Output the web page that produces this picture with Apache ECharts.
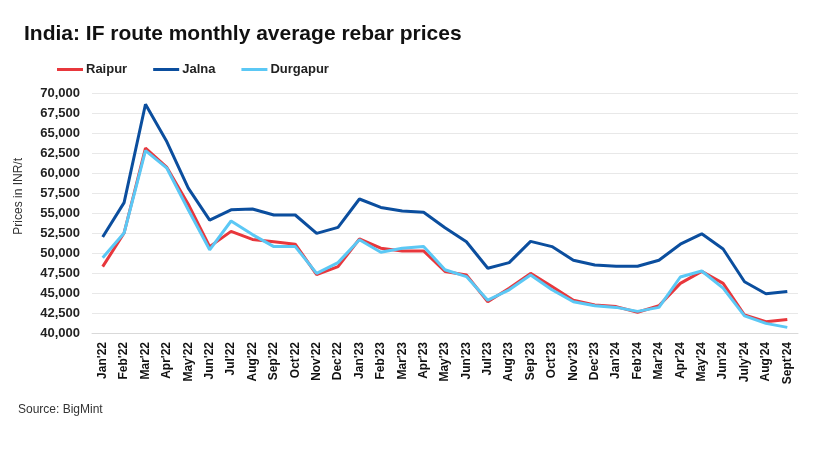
<!DOCTYPE html>
<html>
<head>
<meta charset="utf-8">
<script src="https://cdn.jsdelivr.net/npm/echarts@6/dist/echarts.min.js"></script>
<style>html,body{margin:0;padding:0;background:#fff}#c{width:825px;height:461px}</style>
</head>
<body>
<div id="c"></div>
<script>
var categories = ["Jan'22","Feb'22","Mar'22","Apr'22","May'22","Jun'22","Jul'22","Aug'22","Sep'22","Oct'22","Nov'22","Dec'22",
"Jan'23","Feb'23","Mar'23","Apr'23","May'23","Jun'23","Jul'23","Aug'23","Sep'23","Oct'23","Nov'23","Dec'23",
"Jan'24","Feb'24","Mar'24","Apr'24","May'24","Jun'24","July'24","Aug'24","Sept'24"];
var raipur = [48300,52500,63100,60700,56100,50800,52700,51700,51400,51100,47300,48300,
51750,50600,50250,50250,47700,47250,43900,45600,47450,45800,44100,43500,
43300,42600,43400,46200,47700,46200,42250,41400,41700];
var jalna = [52000,56300,68600,63900,58100,54100,55400,55500,54750,54750,52450,53200,
56750,55700,55250,55100,53150,51400,48100,48800,51450,50800,49100,48500,
48350,48350,49100,51100,52400,50500,46400,44900,45200];
var durgapur = [49400,52500,62800,60600,55400,50400,54000,52300,50800,50800,47450,48800,
51650,50100,50600,50800,47900,47050,44100,45400,47250,45400,43900,43400,
43200,42700,43200,47000,47750,45600,42150,41200,40700];
var yMin = 40000, yMax = 70000, yStep = 2500;

var chart = echarts.init(document.getElementById('c'));
function mk(name, data, color){
  return {name:name, type:'line', data:data, symbol:'none', smooth:false,
    lineStyle:{width:3, color:color}, itemStyle:{color:color}};
}
chart.setOption({
  animation:false,
  title:{text:'India: IF route monthly average rebar prices', left:19, top:19,
    textStyle:{fontFamily:'Liberation Sans', fontWeight:'bold', fontSize:21, color:'#111'}},
  legend:{left:52, top:58, itemWidth:26, itemHeight:3, itemGap:26,
    icon:'rect',
    textStyle:{fontFamily:'Liberation Sans', fontWeight:'bold', fontSize:13, color:'#222', padding:[0,0,0,-2]},
    data:['Raipur','Jalna','Durgapur']},
  grid:{left:92, right:27, top:93, bottom:128, containLabel:false},
  xAxis:{type:'category', data:categories, boundaryGap:true,
    axisLine:{lineStyle:{color:'#d9d9d9', width:1}},
    axisTick:{show:false},
    axisLabel:{rotate:90, interval:0, margin:9, fontFamily:'Liberation Sans', fontWeight:'bold', fontSize:12, color:'#111'}},
  yAxis:{type:'value', min:yMin, max:yMax, interval:yStep,
    axisLine:{show:false}, axisTick:{show:false},
    splitLine:{lineStyle:{color:'#e8e8e8', width:1}},
    axisLabel:{margin:12, fontFamily:'Liberation Sans', fontWeight:'bold', fontSize:13, color:'#222',
      formatter:function(v){return v.toLocaleString('en-US');}}},
  graphic:[
    {type:'text', left:13, top:158, rotation:Math.PI/2,
      style:{text:'Prices in INR/t', fontFamily:'Liberation Sans', fontSize:12, fill:'#333'}},
    {type:'text', left:18, top:404,
      style:{text:'Source: BigMint', fontFamily:'Liberation Sans', fontSize:12, fill:'#333'}}
  ],
  series:[mk('Raipur', raipur, '#E8373C'), mk('Jalna', jalna, '#0B4E9E'), mk('Durgapur', durgapur, '#5BC8F5')]
});
</script>
</body>
</html>
